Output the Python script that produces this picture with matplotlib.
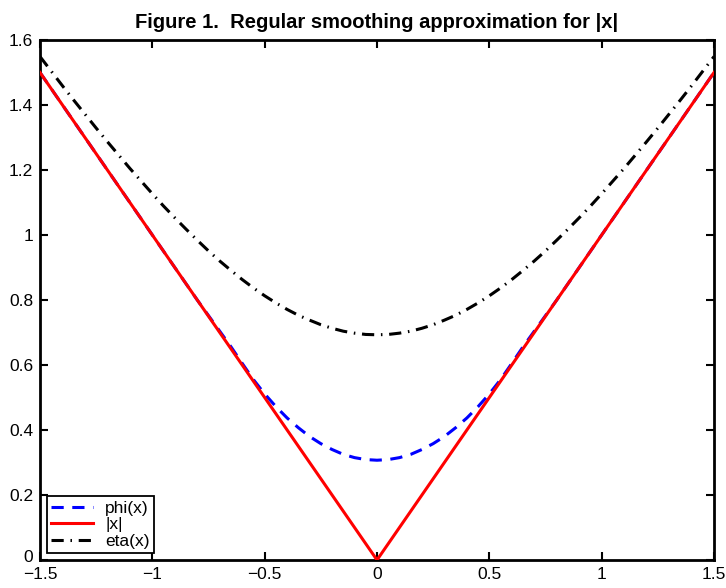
import matplotlib.pyplot as plt
import matplotlib.transforms as mtransforms

plt.rcParams["font.family"] = ["Liberation Sans", "DejaVu Sans"]

x_vals = [-1.50, -1.45, -1.40, -1.35, -1.30, -1.25, -1.20, -1.15, -1.10, -1.05,
          -1.00, -0.95, -0.90, -0.85, -0.80, -0.75, -0.70, -0.65, -0.60, -0.55,
          -0.50, -0.45, -0.40, -0.35, -0.30, -0.25, -0.20, -0.15, -0.10, -0.05,
          0.00, 0.05, 0.10, 0.15, 0.20, 0.25, 0.30, 0.35, 0.40, 0.45,
          0.50, 0.55, 0.60, 0.65, 0.70, 0.75, 0.80, 0.85, 0.90, 0.95,
          1.00, 1.05, 1.10, 1.15, 1.20, 1.25, 1.30, 1.35, 1.40, 1.45, 1.50]

phi_vals = [1.500, 1.450, 1.400, 1.350, 1.300, 1.250, 1.200, 1.150, 1.100, 1.050,
            1.000, 0.950, 0.900, 0.850, 0.800, 0.752, 0.704, 0.656, 0.605, 0.555,
            0.511, 0.472, 0.437, 0.407, 0.380, 0.358, 0.340, 0.325, 0.315, 0.309,
            0.307, 0.309, 0.315, 0.325, 0.340, 0.358, 0.380, 0.407, 0.437, 0.472,
            0.511, 0.555, 0.605, 0.656, 0.704, 0.752, 0.800, 0.850, 0.900, 0.950,
            1.000, 1.050, 1.100, 1.150, 1.200, 1.250, 1.300, 1.350, 1.400, 1.450, 1.500]

eta_vals = [1.549, 1.504, 1.459, 1.415, 1.372, 1.329, 1.287, 1.246, 1.205, 1.166,
            1.127, 1.089, 1.053, 1.018, 0.984, 0.951, 0.920, 0.891, 0.863, 0.837,
            0.813, 0.791, 0.771, 0.753, 0.738, 0.724, 0.713, 0.704, 0.698, 0.694,
            0.693, 0.694, 0.698, 0.704, 0.713, 0.724, 0.738, 0.753, 0.771, 0.791,
            0.813, 0.837, 0.863, 0.891, 0.920, 0.951, 0.984, 1.018, 1.053, 1.089,
            1.127, 1.166, 1.205, 1.246, 1.287, 1.329, 1.372, 1.415, 1.459, 1.504, 1.549]

abs_x = [-1.5, 0.0, 1.5]
abs_y = [1.5, 0.0, 1.5]

fig = plt.figure(figsize=(7.26, 5.88), dpi=100)
ax = fig.add_axes([40 / 726, 28 / 588, 674 / 726, 520 / 588])

ax.plot(x_vals, phi_vals, color="blue", lw=2.2, dashes=(4, 2.8), label="phi(x)", zorder=2)
ax.plot(abs_x, abs_y, color="red", lw=2.2, label="|x|", zorder=3)
ax.plot(x_vals, eta_vals, color="black", lw=2.2, dashes=(4, 2.2, 0.5, 2.2), label="eta(x)", zorder=3)

ax.set_xlim(-1.5, 1.5)
ax.set_ylim(0, 1.6)
ax.set_xticks([-1.5, -1, -0.5, 0, 0.5, 1, 1.5])
ax.set_xticklabels(["\u22121.5", "\u22121", "\u22120.5", "0", "0.5", "1", "1.5"])
ax.set_yticks([0, 0.2, 0.4, 0.6, 0.8, 1, 1.2, 1.4, 1.6])
ax.set_yticklabels(["0", "0.2", "0.4", "0.6", "0.8", "1", "1.2", "1.4", "1.6"])
ax.tick_params(direction="in", top=True, right=True, length=6, width=1.5,
               labelsize=12.5)
ax.tick_params(axis="x", pad=5)
ax.tick_params(axis="y", pad=5)
for s in ax.spines.values():
    s.set_linewidth(2)

# nudge the y "0" label up a little so it clears the "-1.5" below
lbl0 = ax.get_yticklabels()[0]
lbl0.set_transform(lbl0.get_transform() +
                   mtransforms.ScaledTranslation(0, 4 / 100, fig.dpi_scale_trans))

ax.set_title("Figure 1.  Regular smoothing approximation for |x|",
             fontsize=14.5, fontweight="bold", pad=9)

leg = ax.legend(loc="lower left", fontsize=12.5, handlelength=2.4,
                bbox_to_anchor=(7 / 674, 7 / 520), borderaxespad=0,
                fancybox=False, framealpha=1, edgecolor="black",
                borderpad=0.25, labelspacing=0.08, handletextpad=0.7)
leg.get_frame().set_linewidth(1.3)

fig.savefig("out.png", dpi=100)
